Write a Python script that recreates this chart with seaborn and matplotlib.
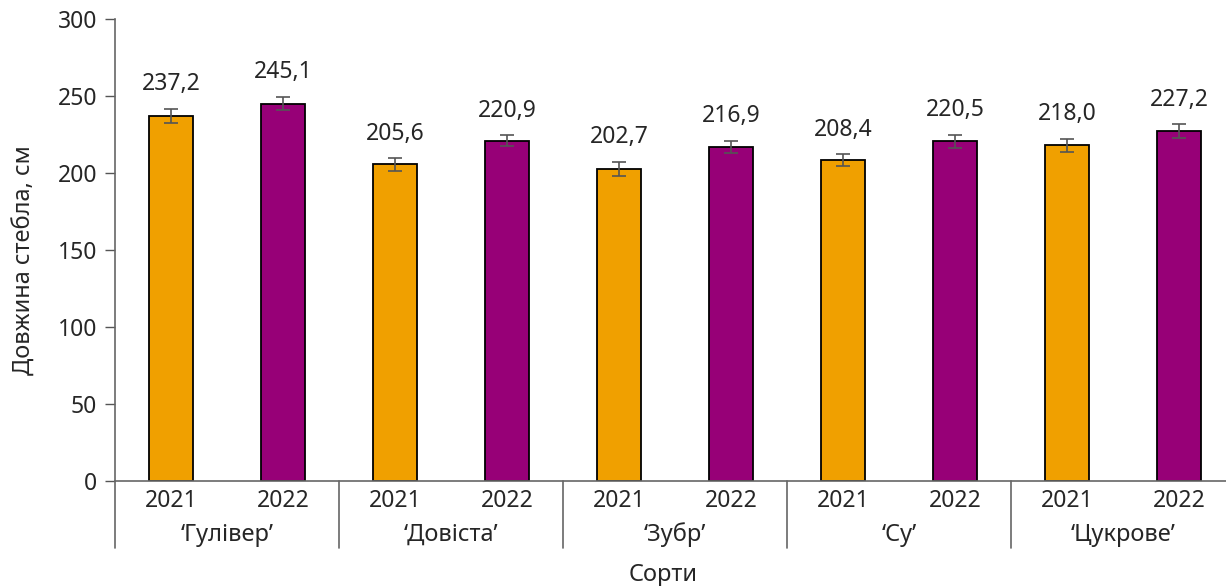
import matplotlib
matplotlib.use("Agg")
import matplotlib.pyplot as plt
import matplotlib.transforms as mtransforms
import seaborn as sns
import pandas as pd

#--------------------------------------- DATA ---------------------------------------#
cultivars = ["‘Гулівер’", "‘Довіста’", "‘Зубр’", "‘Су’", "‘Цукрове’"]
years = ["2021", "2022"]
values_2021 = [237.2, 205.6, 202.7, 208.4, 218.0]
values_2022 = [245.1, 220.9, 216.9, 220.5, 227.2]
err_2021 = [4.5, 4.0, 4.5, 3.8, 4.4]
err_2022 = [4.3, 3.5, 4.0, 4.5, 4.5]
y_ticks = [0, 50, 100, 150, 200, 250, 300]

#--------------------------------------- PARAMETERS ---------------------------------------#
WIDTH, HEIGHT, DPI = 12.26, 5.86, 100
clr = {"2021": "#F0A000", "2022": "#970077"}
FS = 16.5
FS_LAB = 17

rows = []
for i, c in enumerate(cultivars):
    rows.append({"slot": "%s %s" % (c, years[0]), "year": years[0], "value": values_2021[i], "err": err_2021[i], "cultivar": c})
    rows.append({"slot": "%s %s" % (c, years[1]), "year": years[1], "value": values_2022[i], "err": err_2022[i], "cultivar": c})
df = pd.DataFrame(rows)

sns.set_style("white")
plt.rcParams['font.family'] = ['Noto Sans', 'DejaVu Sans']

fig = plt.figure(figsize=(WIDTH, HEIGHT), dpi=DPI)
ax = fig.add_axes([115 / 1226, 105 / 586, 1120 / 1226, 462 / 586])

sns.barplot(data=df, x="slot", y="value", hue="year", palette=clr, dodge=False, saturation=1,
            width=0.39, edgecolor="black", linewidth=1.3, legend=False, ax=ax, errorbar=None)

ax.errorbar(range(len(df)), df["value"], yerr=df["err"], fmt="none",
            ecolor="#555555", elinewidth=1.2, capsize=4.7, capthick=1.2, zorder=5)

for i, (v, e) in enumerate(zip(df["value"], df["err"])):
    ax.annotate(("%.1f" % v).replace(".", ","), (i, v + e), xytext=(0, 9),
                textcoords="offset points", ha="center", va="bottom", fontsize=FS)

ax.set_xlim(-0.5, len(df) - 0.5)
ax.set_ylim(0, 300)
ax.set_yticks(y_ticks)
ax.set_yticklabels([str(t) for t in y_ticks], fontsize=FS)
ax.tick_params(axis="y", which="both", left=True, length=7, width=1, color="#555555", pad=6)
ax.set_xticks(range(len(df)))
ax.set_xticklabels(df["year"], fontsize=FS)
ax.tick_params(axis="x", length=0, pad=6)

for s in ["top", "right"]:
    ax.spines[s].set_visible(False)
for s in ["left", "bottom"]:
    ax.spines[s].set_color("#666666")
    ax.spines[s].set_linewidth(1.2)

# group separators and cultivar names under the axis
trans = mtransforms.blended_transform_factory(ax.transData, ax.transAxes)
for g in range(len(cultivars)):
    ax.plot([2 * g - 0.5, 2 * g - 0.5], [0, -0.145], transform=trans, color="#666666",
            linewidth=1.2, clip_on=False)
    ax.text(2 * g + 0.5, -0.117, cultivars[g], transform=trans, ha="center", va="center", fontsize=FS_LAB)

ax.set_xlabel("Сорти", fontsize=FS_LAB)
ax.set_ylabel("Довжина стебла, см", fontsize=FS_LAB)
ax.xaxis.set_label_coords(0.489, -0.178)
ax.yaxis.set_label_coords(-0.07, 0.478)

plt.savefig("out.png", dpi=DPI)
